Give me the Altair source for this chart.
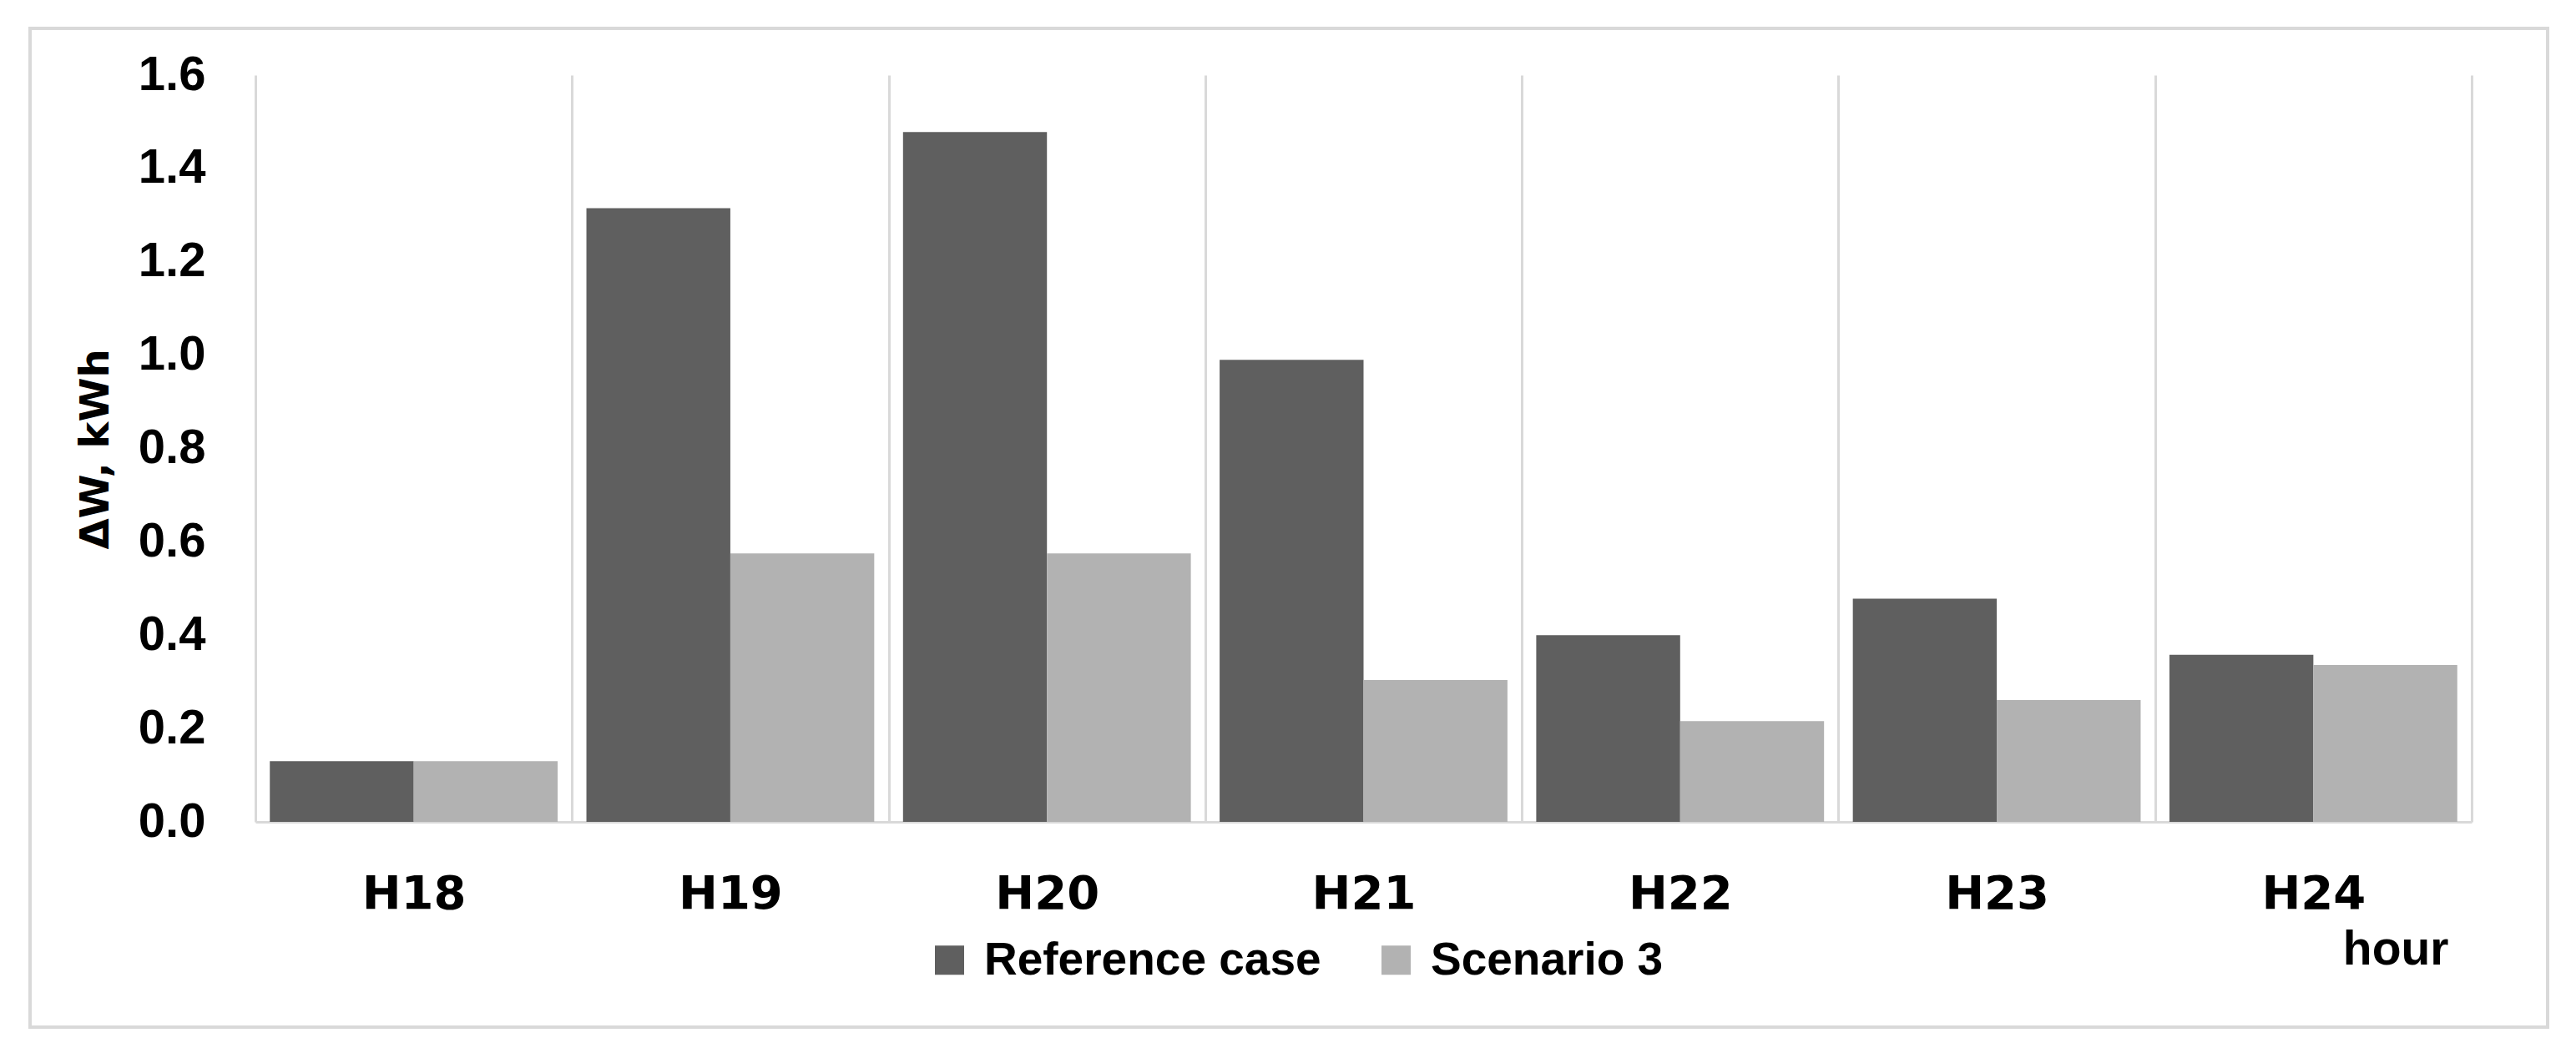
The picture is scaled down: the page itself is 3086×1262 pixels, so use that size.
import altair as alt
import pandas as pd

hours = ["H18", "H19", "H20", "H21", "H22", "H23", "H24"]
series = ["Reference case", "Scenario 3"]
reference_case = [0.13, 1.315, 1.478, 0.99, 0.40, 0.478, 0.358]
scenario_3 = [0.13, 0.575, 0.575, 0.304, 0.216, 0.261, 0.336]
y_ticks = [0.0, 0.2, 0.4, 0.6, 0.8, 1.0, 1.2, 1.4, 1.6]
colors = ["#5f5f5f", "#b2b2b2"]

rows = []
for h, r, s in zip(hours, reference_case, scenario_3):
    rows.append({"hour": h, "series": series[0], "value": r})
    rows.append({"hour": h, "series": series[1], "value": s})
df = pd.DataFrame(rows)

GRID = "#d9d9d9"
W, H = 2655, 895

bars = alt.Chart(df).mark_bar(stroke=None).encode(
    x=alt.X(
        "hour:N",
        sort=hours,
        scale=alt.Scale(paddingInner=0, paddingOuter=0),
        axis=alt.Axis(
            title="hour",
            titleFont="Liberation Sans",
            titleFontSize=57,
            titleFontWeight="bold",
            titleColor="#000000",
            titleAnchor="end",
            titleAlign="right",
            titleBaseline="alphabetic",
            titleX=2627,
            titleY=170,
            labelAngle=0,
            labelFont="DejaVu Sans",
            labelFontSize=56,
            labelFontWeight="bold",
            labelColor="#000000",
            labelBaseline="alphabetic",
            labelPadding=103,
            ticks=False,
            tickSize=0,
            tickBand="extent",
            grid=True,
            gridColor=GRID,
            gridWidth=3,
            domain=True,
            domainColor=GRID,
            domainWidth=3,
        ),
    ),
    xOffset=alt.XOffset(
        "series:N",
        sort=series,
        scale=alt.Scale(paddingInner=0, paddingOuter=0.1),
    ),
    y=alt.Y(
        "value:Q",
        scale=alt.Scale(domain=[0, 1.6], nice=False, zero=True),
        axis=alt.Axis(
            title="ΔW, kWh",
            titleFont="DejaVu Sans",
            titleFontSize=48,
            titleFontWeight="bold",
            titleColor="#000000",
            titleAngle=270,
            titleAlign="center",
            titleBaseline="alphabetic",
            titleX=-177,
            titleY=448,
            values=y_ticks,
            format=".1f",
            labelFont="Liberation Sans",
            labelFontSize=58,
            labelFontWeight="bold",
            labelColor="#000000",
            labelPadding=60,
            ticks=False,
            tickSize=0,
            domain=False,
            grid=False,
        ),
    ),
    color=alt.Color(
        "series:N",
        sort=series,
        scale=alt.Scale(domain=series, range=colors),
        legend=alt.Legend(
            title=None,
            orient="none",
            direction="horizontal",
            legendX=804,
            legendY=1033,
            padding=0,
            symbolType="square",
            symbolSize=1225,
            symbolStrokeWidth=0,
            labelFont="Liberation Sans",
            labelFontSize=55,
            labelFontWeight="bold",
            labelColor="#000000",
            labelOffset=14,
            labelLimit=1000,
            columnPadding=62,
        ),
    ),
)

frame = alt.Chart(alt.Data(values=[{}])).mark_rect(
    filled=False, stroke=GRID, strokeWidth=4
).encode(
    x=alt.value(-270), x2=alt.value(2746), y=alt.value(-56), y2=alt.value(1141)
)

chart = alt.layer(frame, bars).properties(
    width=W,
    height=H,
    autosize=alt.AutoSizeParams(type="none"),
    padding={"left": 298, "top": 82, "right": 117, "bottom": 273},
    background="white",
).configure_view(stroke=None)

chart.save("out.html", embed_options={"renderer": "svg", "actions": False})
